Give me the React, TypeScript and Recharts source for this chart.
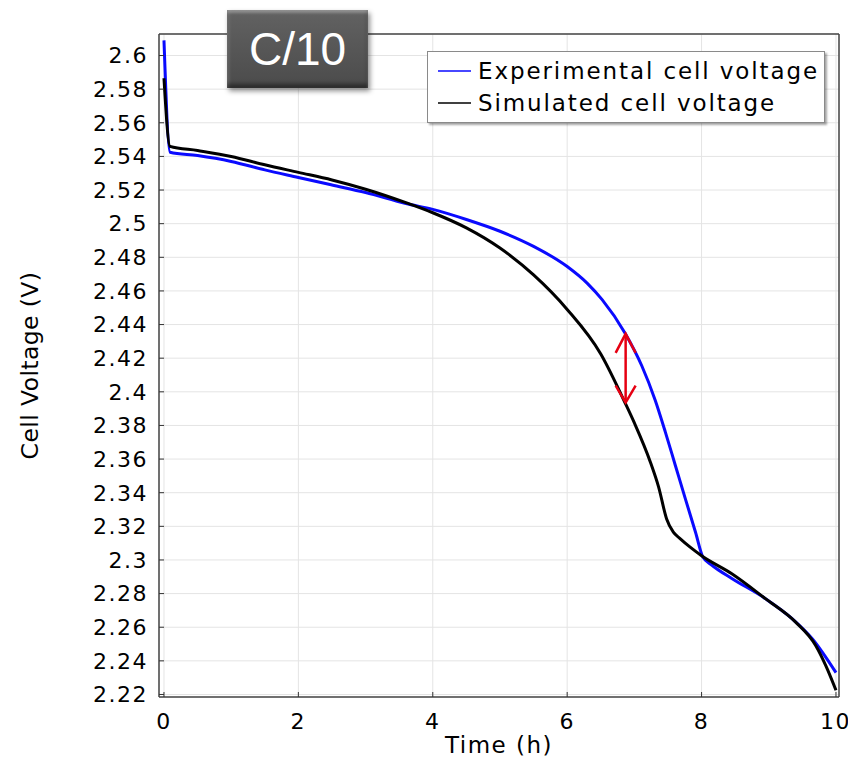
import React from 'react';
import {
  LineChart,
  Line,
  XAxis,
  YAxis,
  CartesianGrid,
  Legend,
  ReferenceLine,
} from 'recharts';

// Experimental discharge curve (time in h, voltage in V)
const expTime = [0, 0.09, 0.5, 1, 1.5, 2, 2.5, 3, 3.6, 4, 4.5, 5, 5.5, 6, 6.3, 6.52, 6.86, 7.11, 7.31, 7.46, 7.61, 7.76, 7.91, 8.02, 8.15, 8.45, 8.95, 9.35, 9.65, 10];
const expVolt = [2.609, 2.5425, 2.5405, 2.537, 2.532, 2.5275, 2.523, 2.5185, 2.512, 2.5085, 2.5025, 2.4955, 2.4865, 2.4745, 2.4645, 2.4548, 2.435, 2.4155, 2.395, 2.3762, 2.3562, 2.3362, 2.3165, 2.3017, 2.297, 2.289, 2.277, 2.265, 2.253, 2.233];

// Simulated discharge curve
const simTime = [0, 0.09, 0.5, 1, 1.5, 2, 2.5, 3, 3.6, 4, 4.5, 5, 5.5, 6, 6.5, 6.86, 7.0, 7.24, 7.36, 7.48, 7.58, 7.68, 7.83, 8.0, 8.45, 8.95, 9.4, 9.7, 9.85, 10];
const simVolt = [2.5865, 2.546, 2.5435, 2.54, 2.535, 2.5305, 2.526, 2.5205, 2.5125, 2.5065, 2.4975, 2.4855, 2.4695, 2.449, 2.4225, 2.3936, 2.3815, 2.358, 2.3435, 2.3244, 2.3165, 2.3127, 2.3076, 2.3025, 2.2918, 2.277, 2.263, 2.249, 2.237, 2.2225];

const xTicks = [0, 2, 4, 6, 8, 10];
const yTicks = [2.22, 2.24, 2.26, 2.28, 2.3, 2.32, 2.34, 2.36, 2.38, 2.4, 2.42, 2.44, 2.46, 2.48, 2.5, 2.52, 2.54, 2.56, 2.58, 2.6];

// gap marker between the two curves
const arrowTime = 6.87;
const arrowTop = 2.4345;
const arrowBottom = 2.3936;

const expData = expTime.map((t, i) => ({ t, v: expVolt[i] }));
const simData = simTime.map((t, i) => ({ t, v: simVolt[i] }));

const EXP_COLOR = '#0a0aff';
const SIM_COLOR = '#000000';
const seriesColors = [EXP_COLOR, SIM_COLOR];

const xDomain: [number, number] = [-0.074, 10.045];
const yDomain: [number, number] = [2.2185, 2.6128];

const FONT = '"DejaVu Sans", Verdana, sans-serif';
const tickStyle = { fill: '#000', fontSize: 22, fontFamily: FONT, letterSpacing: 1.5 };
const frame = { stroke: '#444', strokeWidth: 1.5 };
const tickLine = { stroke: '#333', strokeWidth: 1 };

const RateBadge = () => (
  <div
    style={{
      position: 'absolute',
      left: 227,
      top: 10,
      width: 141,
      height: 78,
      background: 'linear-gradient(#626262, #4b4b4b)',
      boxShadow:
        'inset 0 3px 3px rgba(255,255,255,0.28), inset 0 -4px 4px rgba(0,0,0,0.45), inset 3px 0 3px rgba(255,255,255,0.12), 2px 3px 5px rgba(0,0,0,0.45)',
      color: '#fff',
      fontFamily: '"Liberation Sans", Arial, sans-serif',
      fontSize: 46,
      lineHeight: '78px',
      textAlign: 'center',
      zIndex: 2,
    }}
  >
    C/10
  </div>
);

const LegendBox = ({ payload }: any) => (
  <div
    style={{
      width: 398,
      height: 72,
      background: '#fff',
      border: '1.5px solid #8a8a8a',
      boxShadow: '2px 2px 2px rgba(0,0,0,0.35)',
      boxSizing: 'border-box',
      paddingTop: 3,
    }}
  >
    {(payload || []).map((p: any, i: number) => (
      <div key={i} style={{ display: 'flex', alignItems: 'center', height: 32 }}>
        <svg width={33} height={4} style={{ marginLeft: 10, marginRight: 7 }}>
          <line x1={0} y1={2} x2={33} y2={2} stroke={p.payload?.stroke || seriesColors[i]} strokeWidth={1.5} />
        </svg>
        <span style={{ fontFamily: FONT, fontSize: 23, letterSpacing: 1.9, color: '#000' }}>{p.value}</span>
      </div>
    ))}
  </div>
);

const GapArrow = (props: any) => {
  const { x1, y1, x2, y2 } = props;
  return (
    <g stroke="#e60012" strokeWidth={2.5} fill="none">
      <line x1={x1} y1={y1} x2={x2} y2={y2} />
      <polyline points={`${x1 - 10},${y1 + 19} ${x1},${y1} ${x1 + 10},${y1 + 19}`} />
      <polyline points={`${x2 - 10},${y2 - 17} ${x2},${y2} ${x2 + 10},${y2 - 17}`} />
    </g>
  );
};

export default function App() {
  return (
    <div style={{ position: 'absolute', left: 0, top: 0, width: 848, height: 757, background: '#fff' }}>
      <RateBadge />
      <LineChart width={848} height={757} margin={{ top: 33, right: 8, bottom: 0, left: 0 }}>
        <CartesianGrid stroke="#e4e4e4" strokeWidth={1} />
        <XAxis
          dataKey="t"
          type="number"
          domain={xDomain}
          allowDataOverflow
          ticks={xTicks}
          height={60}
          axisLine={frame}
          tickLine={tickLine}
          tickSize={-5}
          tickMargin={21}
          tick={tickStyle}
          label={{
            value: 'Time (h)',
            position: 'insideBottom',
            offset: 4,
            style: { fill: '#000', fontSize: 23, fontFamily: FONT, letterSpacing: 1.5 },
          }}
        />
        <XAxis
          xAxisId="top"
          orientation="top"
          type="number"
          domain={xDomain}
          allowDataOverflow
          ticks={xTicks}
          height={1}
          axisLine={frame}
          tickLine={tickLine}
          tickSize={-5}
          tick={false}
        />
        <YAxis
          type="number"
          domain={yDomain}
          allowDataOverflow
          ticks={yTicks}
          interval={0}
          width={159}
          axisLine={frame}
          tickLine={tickLine}
          tickSize={-5}
          tickMargin={16}
          tick={tickStyle}
          label={{
            value: 'Cell Voltage (V)',
            angle: -90,
            position: 'insideLeft',
            offset: 30,
            style: { textAnchor: 'middle', fill: '#000', fontSize: 23.5, fontFamily: FONT, letterSpacing: 0.4 },
          }}
        />
        <YAxis
          yAxisId="right"
          orientation="right"
          type="number"
          domain={yDomain}
          allowDataOverflow
          ticks={yTicks}
          interval={0}
          width={1}
          axisLine={frame}
          tickLine={tickLine}
          tickSize={-5}
          tick={false}
        />
        <Legend
          layout="vertical"
          align="center"
          verticalAlign="middle"
          wrapperStyle={{ left: 427, top: 51, width: 400 }}
          content={<LegendBox />}
        />
        <Line
          data={expData}
          dataKey="v"
          name="Experimental cell voltage"
          type="monotone"
          stroke={EXP_COLOR}
          strokeWidth={3}
          dot={false}
          isAnimationActive={false}
        />
        <Line
          data={simData}
          dataKey="v"
          name="Simulated cell voltage"
          type="monotone"
          stroke={SIM_COLOR}
          strokeWidth={3}
          dot={false}
          isAnimationActive={false}
        />
        <ReferenceLine
          segment={[
            { x: arrowTime, y: arrowTop },
            { x: arrowTime, y: arrowBottom },
          ]}
          shape={<GapArrow />}
        />
      </LineChart>
    </div>
  );
}
